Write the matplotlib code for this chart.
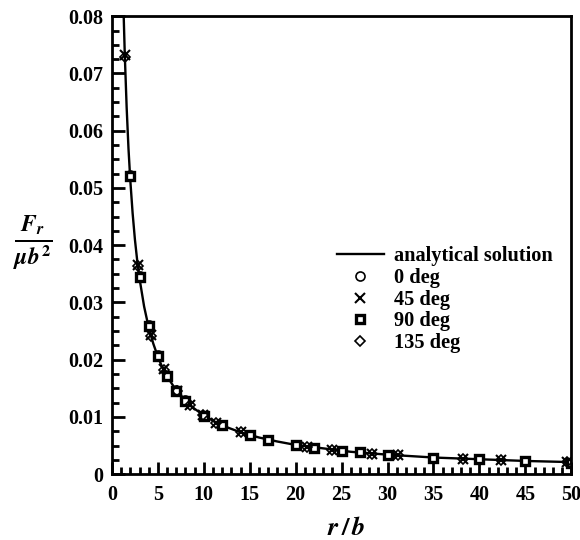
import matplotlib
matplotlib.use("Agg")
import matplotlib.pyplot as plt
from matplotlib.ticker import MultipleLocator

plt.rcParams['font.family'] = ['Liberation Serif', 'DejaVu Serif']
plt.rcParams['font.weight'] = 'bold'
plt.rcParams['mathtext.fontset'] = 'stix'

# analytical curve
r_line = [1.28, 1.4, 1.6, 1.8, 2.0, 2.25, 2.5, 2.75, 3.0, 3.5, 4.0, 4.5, 5.0, 5.5,
          6, 7, 8, 9, 10, 11, 12, 14, 16, 18, 20, 23, 26, 30, 35, 40, 45, 50]
f_line = [0.0800, 0.0732, 0.0641, 0.0569, 0.0513, 0.0456, 0.0410, 0.0373, 0.0342,
          0.0293, 0.0256, 0.0228, 0.0205, 0.0186, 0.0171, 0.0146, 0.0128, 0.0114,
          0.0103, 0.0093, 0.0085, 0.0073, 0.0064, 0.0057, 0.0051, 0.0045, 0.0039,
          0.0034, 0.0029, 0.0026, 0.0023, 0.0021]

# points along the axes (0 and 90 deg)
r_axis = [2, 3, 4, 5, 6, 7, 8, 10, 12, 15, 17, 20, 22, 25, 27, 30, 35, 40, 45, 50]
f_0 = [0.0522, 0.0346, 0.0260, 0.0208, 0.0171, 0.0147, 0.0129, 0.0102, 0.0085,
       0.0068, 0.0060, 0.0051, 0.0046, 0.0041, 0.0038, 0.0034, 0.0029, 0.0026,
       0.0023, 0.0020]
f_90 = [0.0520, 0.0345, 0.0259, 0.0207, 0.0171, 0.0146, 0.0128, 0.0102, 0.0085,
        0.0068, 0.0060, 0.0051, 0.0046, 0.0041, 0.0038, 0.0034, 0.0029, 0.0026,
        0.0023, 0.0020]

# points along the diagonals (45 and 135 deg)
r_diag = [1.41, 2.83, 4.24, 5.66, 7.07, 8.49, 9.9, 11.3, 14.1, 21.2, 24.0, 28.3,
          31.1, 38.2, 42.4, 49.5]
f_45 = [0.0733, 0.0365, 0.0243, 0.0183, 0.0146, 0.0121, 0.0104, 0.0090, 0.0073,
        0.0048, 0.0043, 0.0036, 0.0033, 0.0027, 0.0024, 0.0021]
f_135 = [0.0729, 0.0363, 0.0242, 0.0182, 0.0145, 0.0121, 0.0104, 0.0090, 0.0073,
         0.0048, 0.0043, 0.0036, 0.0033, 0.0027, 0.0024, 0.0021]

fig = plt.figure(figsize=(5.8, 5.4), dpi=100)
ax = fig.add_axes([0.193, 0.122, 0.792, 0.848])

ax.plot(r_line, f_line, 'k-', lw=1.7, label='analytical solution')
ax.plot(r_axis, f_0, 'o', ms=6.5, mfc='none', mec='k', mew=1.2, label='0 deg')
ax.plot(r_diag, f_45, 'x', ms=7, mec='k', mew=1.5, label='45 deg')
ax.plot(r_axis, f_90, 's', ms=6, mfc='white', mec='k', mew=2.4, label='90 deg')
ax.plot(r_diag, f_135, 'D', ms=5.5, mfc='none', mec='k', mew=1.2, label='135 deg')

ax.set_xlim(0, 50)
ax.set_ylim(0, 0.08)
ax.xaxis.set_major_locator(MultipleLocator(5))
ax.xaxis.set_minor_locator(MultipleLocator(1))
ax.yaxis.set_major_locator(MultipleLocator(0.01))
ax.yaxis.set_minor_locator(MultipleLocator(0.0025))
ax.set_yticks([0, 0.01, 0.02, 0.03, 0.04, 0.05, 0.06, 0.07, 0.08])
ax.set_yticklabels(['0', '0.01', '0.02', '0.03', '0.04', '0.05', '0.06', '0.07', '0.08'])
ax.tick_params(which='both', direction='in', top=False, right=False, width=2,
               labelsize=14.5)
ax.tick_params(which='major', length=9)
ax.tick_params(which='minor', length=5)
ax.tick_params(axis='y', which='major', pad=6.5)
ax.tick_params(axis='x', which='major', pad=7.5)
for s in ax.spines.values():
    s.set_linewidth(2)

ax.set_xlabel(r'$r\,/\,b$', fontsize=19)
ax.xaxis.set_label_coords(0.51, -0.093)
ax.set_ylabel(r'$\frac{F_r}{\mu b^2}$', fontsize=24, rotation=0, va='center')
ax.yaxis.set_label_coords(-0.172, 0.503)

ax.legend(loc='center right', bbox_to_anchor=(1.0, 0.381), frameon=False,
          fontsize=14.7, handlelength=2.3, handletextpad=0.5, labelspacing=0.08)

fig.savefig('out.png', dpi=100)
